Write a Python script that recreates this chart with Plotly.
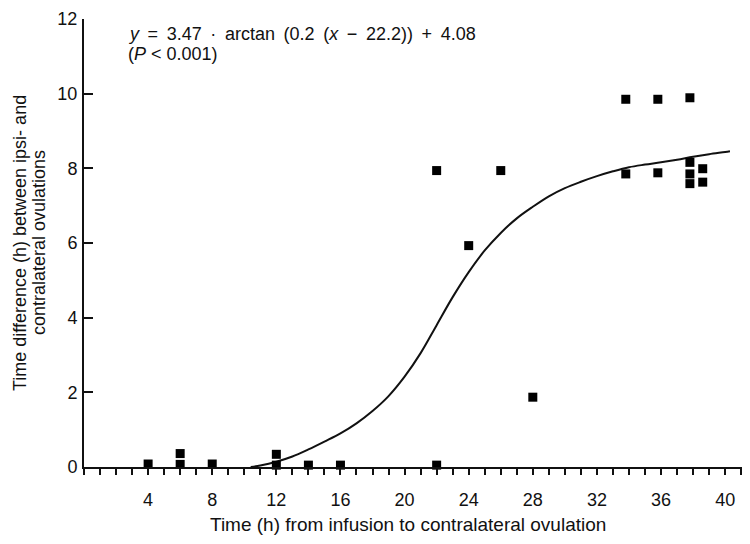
import plotly.graph_objects as go

# Observed data points (x: time from infusion, h; y: time difference, h)
obs_x = [4, 6, 6, 8, 12, 12, 14, 16, 22, 22, 24, 26, 28,
         33.8, 35.8, 37.8, 33.8, 35.8, 37.8, 37.8, 37.8, 38.6, 38.6]
obs_y = [0.08, 0.36, 0.07, 0.08, 0.34, 0.05, 0.05, 0.05, 0.05, 7.94, 5.93, 7.94, 1.87,
         9.85, 9.85, 9.89, 7.85, 7.88, 8.16, 7.85, 7.59, 7.99, 7.63]

# Fitted curve
fit_x = [10.4, 11, 12, 13, 14, 15, 16, 17, 18, 19, 20, 21, 22, 23, 24, 25, 26,
         27, 28, 29, 30, 31, 32, 33, 34, 35, 36, 37, 38, 39, 40, 40.3]
fit_y = [0.0, 0.04, 0.14, 0.28, 0.47, 0.68, 0.9, 1.17, 1.5, 1.9, 2.42, 3.05, 3.8,
         4.55, 5.22, 5.8, 6.27, 6.66, 6.97, 7.25, 7.47, 7.64, 7.79, 7.92, 8.03,
         8.1, 8.16, 8.23, 8.31, 8.38, 8.44, 8.46]

x_ticks = [4, 8, 12, 16, 20, 24, 28, 32, 36, 40]
y_ticks = [0, 2, 4, 6, 8, 10, 12]

FONT = "Liberation Sans"
INK = "#111111"

fig = go.Figure()
fig.add_trace(go.Scatter(x=fit_x, y=fit_y, mode="lines",
                         line=dict(color=INK, width=2, shape="spline", smoothing=1.0),
                         hoverinfo="skip", cliponaxis=False))
fig.add_trace(go.Scatter(x=obs_x, y=obs_y, mode="markers",
                         marker=dict(symbol="square", size=9, color="#000000"),
                         cliponaxis=False))

# page has an 8px body margin, so margins are shifted to compensate
fig.update_layout(
    width=750, height=544,
    margin=dict(l=76, r=12, t=11, b=85, autoexpand=False),
    paper_bgcolor="white", plot_bgcolor="white",
    showlegend=False,
    font=dict(family=FONT, size=18, color=INK),
    xaxis=dict(range=[0, 41.3], tickvals=x_ticks, ticktext=[str(v) for v in x_ticks],
               automargin=False,
               showgrid=False, zeroline=False, showline=True, linecolor=INK, linewidth=2,
               ticks="outside", ticklen=6, tickwidth=1.5, tickcolor=INK,
               minor=dict(tick0=0, dtick=1, ticks="outside", ticklen=6, tickwidth=1.5, tickcolor=INK),
               tickfont=dict(family=FONT, size=18, color=INK),
               ticklabelstandoff=9, ticklabeloverflow="allow"),
    yaxis=dict(range=[0, 12], tickvals=y_ticks, ticktext=[str(v) for v in y_ticks],
               automargin=False,
               showgrid=False, zeroline=False, showline=True, linecolor=INK, linewidth=2,
               ticks="inside", ticklen=9, tickwidth=1.5, tickcolor=INK,
               tickfont=dict(family=FONT, size=18, color=INK),
               ticklabelstandoff=1, ticklabeloverflow="allow"),
)

# Pixel positions on the page -> paper coordinates of the plot area
plot_l, plot_r, plot_t, plot_b = 84, 746, 19, 467
pw, ph = plot_r - plot_l, plot_b - plot_t

def px(xp):
    return (xp - plot_l) / pw

def py(yp):
    return (plot_b - yp) / ph

SP = "\u2009 "  # slightly wider word spacing, as in the typeset equation

fig.add_annotation(xref="paper", yref="paper", x=px(408), y=py(524),
                   text="Time (h) from infusion to contralateral ovulation",
                   showarrow=False, xanchor="center", yanchor="middle",
                   font=dict(family=FONT, size=19, color=INK))
fig.add_annotation(xref="paper", yref="paper", x=px(20), y=py(243),
                   text="Time difference (h) between ipsi- and",
                   showarrow=False, textangle=-90, xanchor="center", yanchor="middle",
                   borderpad=0,
                   font=dict(family=FONT, size=18, color=INK))
fig.add_annotation(xref="paper", yref="paper", x=px(39), y=py(243),
                   text="contralateral ovulations",
                   showarrow=False, textangle=-90, xanchor="center", yanchor="middle",
                   borderpad=0,
                   font=dict(family=FONT, size=18, color=INK))
fig.add_annotation(xref="paper", yref="paper", x=px(126), y=py(34),
                   text=SP.join(["<i>y</i>", "=", "3.47", "·", "arctan", "(0.2",
                                 "(<i>x</i>", "−", "22.2))", "+", "4.08"]),
                   showarrow=False, xanchor="left", yanchor="middle", align="left",
                   font=dict(family=FONT, size=18, color=INK))
fig.add_annotation(xref="paper", yref="paper", x=px(126), y=py(54),
                   text="(<i>P</i> < 0.001)",
                   showarrow=False, xanchor="left", yanchor="middle", align="left",
                   font=dict(family=FONT, size=18, color=INK))

fig.write_html("out.html")
